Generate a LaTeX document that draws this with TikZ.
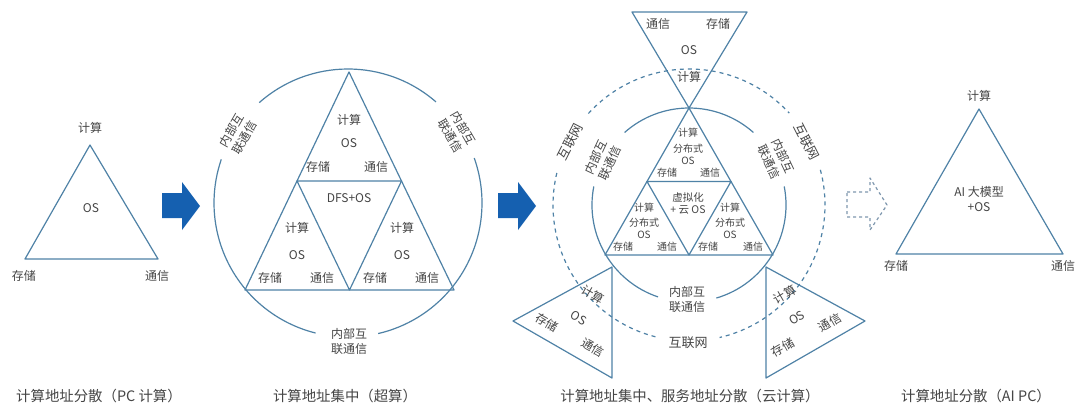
\documentclass[tikz,border=0pt]{standalone}
\usepackage{fontspec}
\setmainfont{Noto Sans CJK SC}
\definecolor{lnc}{HTML}{4F82A6}
\definecolor{arc}{HTML}{1560B0}
\definecolor{txc}{HTML}{454545}
\definecolor{dac}{HTML}{7E97AE}
\tikzset{
  lbl/.style={text=txc, inner sep=0pt, font=\fontsize{12}{14}\selectfont},
  sml/.style={text=txc, inner sep=0pt, font=\fontsize{10}{11}\selectfont},
  captxt/.style={text=txc, inner sep=0pt, font=\fontsize{14.4}{16}\selectfont},
  two/.style={text=txc, inner sep=0pt, align=center, font=\fontsize{12}{15}\selectfont},
  edgeln/.style={draw=lnc, line width=1.2pt, line join=round},
  dashcirc/.style={draw=lnc, line width=1.2pt, dash pattern=on 4pt off 4pt},
  bigarrow/.style={fill=arc, draw=none},
  dasharrow/.style={draw=dac, line width=1.2pt, dash pattern=on 3pt off 3pt}
}
\begin{document}
\begin{tikzpicture}[x=1pt,y=-1pt]
\useasboundingbox[fill=white] (0,0) rectangle (1079,410);

% ---------- Section 1 ----------
\coordinate (a1) at (90,145);
\coordinate (b1) at (25,259);
\coordinate (c1) at (158,259);
\draw[edgeln] (a1) -- (b1) -- (c1) -- cycle;
\node[lbl] (t1) at (90,128) {计算};
\node[lbl] (s1) at (24,276) {存储};
\node[lbl] (m1) at (157,276) {通信};
\node[lbl] (o1) at (91,208) {OS};

% arrow 1
\fill[bigarrow] (162,193) -- (182,193) -- (182,182) -- (200,206) -- (182,230) -- (182,218) -- (162,218) -- cycle;

% ---------- Section 2 ----------
\coordinate (o2) at (348,203);
\draw[edgeln] (o2) ++(-131.5:134) arc[start angle=-131.5, end angle=-49, radius=134];
\draw[edgeln] (o2) ++(-256:134) arc[start angle=-256, end angle=-161, radius=134];
\draw[edgeln] (o2) ++(-19.6:134) arc[start angle=-19.6, end angle=77, radius=134];
\coordinate (A2) at (349,72);
\coordinate (L2) at (245,290);
\coordinate (R2) at (454,290);
\coordinate (ML2) at (297,181);
\coordinate (MR2) at (401.5,181);
\coordinate (MB2) at (349.5,290);
\draw[edgeln] (A2) -- (L2) -- (R2) -- cycle;
\draw[edgeln] (ML2) -- (MR2) -- (MB2) -- cycle;
\node[lbl] (t2a) at (349,120) {计算};
\node[lbl] (t2b) at (349,143) {OS};
\node[lbl] (t2c) at (318,167) {存储};
\node[lbl] (t2d) at (376,167) {通信};
\node[lbl] (dfs) at (349,198) {DFS+OS};
\node[lbl] (l2a) at (297,228) {计算};
\node[lbl] (l2b) at (297,255) {OS};
\node[lbl] (l2c) at (270,278) {存储};
\node[lbl] (l2d) at (322,278) {通信};
\node[lbl] (r2a) at (402,228) {计算};
\node[lbl] (r2b) at (402,255) {OS};
\node[lbl] (r2c) at (375,278) {存储};
\node[lbl] (r2d) at (427,278) {通信};
\node[two, rotate=60] (n2l) at (238,134) {内部互\\联通信};
\node[two, rotate=-60] (n2r) at (457,132) {内部互\\联通信};
\node[two] (n2b) at (349,341) {内部互\\联通信};

% arrow 2
\fill[bigarrow] (498,193) -- (518,193) -- (518,182) -- (536,206) -- (518,230) -- (518,218) -- (498,218) -- cycle;

% ---------- Section 3 ----------
\coordinate (o3) at (689,205);
% dashed outer circle
\draw[dashcirc] (o3) ++(-137.7:136) arc[start angle=-137.7, end angle=-42.5, radius=136];
\draw[dashcirc] (o3) ++(-255.7:136) arc[start angle=-255.7, end angle=-165, radius=136];
\draw[dashcirc] (o3) ++(-15:136) arc[start angle=-15, end angle=77, radius=136];
% inner solid circle
\draw[edgeln] (o3) ++(-131.6:97) arc[start angle=-131.6, end angle=-48.4, radius=97];
\draw[edgeln] (o3) ++(-251.4:97) arc[start angle=-251.4, end angle=-169, radius=97];
\draw[edgeln] (o3) ++(-11:97) arc[start angle=-11, end angle=73.6, radius=97];
% inner triangles
\coordinate (A3) at (689,108);
\coordinate (L3) at (605,255);
\coordinate (R3) at (773,255);
\coordinate (ML3) at (647,181.5);
\coordinate (MR3) at (731,181.5);
\coordinate (MB3) at (689,255);
\draw[edgeln] (A3) -- (L3) -- (R3) -- cycle;
\draw[edgeln] (ML3) -- (MR3) -- (MB3) -- cycle;
% top inverted triangle
\draw[edgeln] (632,12) -- (747,12) -- (A3) -- cycle;
% bottom-left triangle
\draw[edgeln] (513,321) -- (612,267) -- (612,378) -- cycle;
% bottom-right triangle
\draw[edgeln] (766,267) -- (865,321) -- (766,378) -- cycle;

% inner labels
\node[sml] (it1) at (688,133) {计算};
\node[sml] (it2) at (688,149) {分布式};
\node[sml] (it3) at (688,161) {OS};
\node[sml] (it4) at (667,173) {存储};
\node[sml] (it5) at (710,173) {通信};
\node[two, font=\fontsize{10.5}{12}\selectfont] (ivc) at (688,204) {虚拟化\\+ 云 OS};
\node[sml] (il1) at (644,208) {计算};
\node[sml] (il2) at (644,223) {分布式};
\node[sml] (il3) at (644,235) {OS};
\node[sml] (il4) at (623,247) {存储};
\node[sml] (il5) at (667,247) {通信};
\node[sml] (ir1) at (730,208) {计算};
\node[sml] (ir2) at (730,223) {分布式};
\node[sml] (ir3) at (730,235) {OS};
\node[sml] (ir4) at (708,247) {存储};
\node[sml] (ir5) at (753,247) {通信};
% top triangle labels
\node[lbl] (tt1) at (658,24) {通信};
\node[lbl] (tt2) at (718,24) {存储};
\node[lbl] (tt3) at (689,50) {OS};
\node[lbl] (tt4) at (689,77) {计算};
% bottom-left labels
\node[lbl, rotate=-30] (bl1) at (593,295) {计算};
\node[lbl, rotate=-30] (bl2) at (579,318) {OS};
\node[lbl, rotate=-30] (bl3) at (547,323) {存储};
\node[lbl, rotate=-30] (bl4) at (593,348) {通信};
% bottom-right labels
\node[lbl, rotate=30] (br1) at (785,295) {计算};
\node[lbl, rotate=30] (br2) at (797,318) {OS};
\node[lbl, rotate=30] (br3) at (830,323) {通信};
\node[lbl, rotate=30] (br4) at (783,348) {存储};
% circle labels
\node[lbl, rotate=63, font=\fontsize{13}{15}\selectfont] (w3l) at (570,142) {互联网};
\node[lbl, rotate=-63, font=\fontsize{13}{15}\selectfont] (w3r) at (807,142) {互联网};
\node[lbl, font=\fontsize{13}{15}\selectfont] (w3b) at (688,343) {互联网};
\node[two, rotate=65] (n3l) at (603,160) {内部互\\联通信};
\node[two, rotate=-65] (n3r) at (776,159) {内部互\\联通信};
\node[two] (n3b) at (687,299) {内部互\\联通信};

% dashed arrow
\draw[dasharrow, line join=round] (847,192) -- (870,192) -- (870,178) -- (887,205) -- (870,230) -- (870,217) -- (847,217) -- cycle;

% ---------- Section 4 ----------
\coordinate (a4) at (979,109);
\coordinate (b4) at (896,254);
\coordinate (c4) at (1063,254);
\draw[edgeln] (a4) -- (b4) -- (c4) -- cycle;
\node[lbl] (t4) at (979,96) {计算};
\node[lbl] (s4) at (896,266) {存储};
\node[lbl] (m4) at (1063,266) {通信};
\node[two] (ai) at (979,199) {AI 大模型\\+OS};

% ---------- Captions ----------
\node[captxt] (c1c) at (99,396) {计算地址分散（PC 计算）};
\node[captxt] (c2c) at (345,396) {计算地址集中（超算）};
\node[captxt] (c3c) at (690,396) {计算地址集中、服务地址分散（云计算）};
\node[captxt] (c4c) at (976,396) {计算地址分散（AI PC）};
\end{tikzpicture}
\end{document}
